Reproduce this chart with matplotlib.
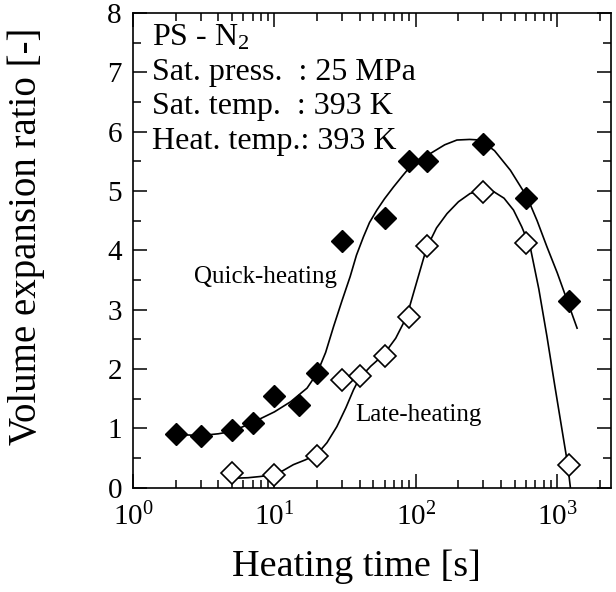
import matplotlib
matplotlib.use('Agg')
import matplotlib.pyplot as plt
import numpy as np
from matplotlib.ticker import MultipleLocator, LogLocator

plt.rcParams['font.family'] = ['Liberation Serif', 'DejaVu Serif']
plt.rcParams['mathtext.fontset'] = 'custom'
plt.rcParams['mathtext.rm'] = 'Liberation Serif'
plt.rcParams['mathtext.it'] = 'Liberation Serif:italic'

# measured points
quick_t = [2, 3, 5, 7, 10, 15, 20, 30, 60, 90, 120, 300, 600, 1200]
quick_v = [0.90, 0.88, 0.98, 1.10, 1.55, 1.40, 1.94, 4.16, 4.54, 5.51, 5.50, 5.80, 4.89, 3.15]
late_t = [5, 10, 20, 30, 40, 60, 90, 120, 300, 600, 1200]
late_v = [0.25, 0.22, 0.54, 1.82, 1.89, 2.22, 2.88, 4.07, 4.98, 4.12, 0.39]

# hand-drawn guide curves
quick_curve_t = [2, 3, 4, 5, 7, 10, 13, 17, 20, 23, 26.2, 30, 34.3, 38, 42.6, 47, 53, 60, 69.5, 80,
                 91, 108, 126, 160, 195, 240, 286, 360, 466, 611, 720, 845, 1000, 1173, 1380]
quick_curve_v = [0.90, 0.88, 0.91, 0.95, 1.10, 1.28, 1.45, 1.68, 1.93, 2.28, 2.72, 3.15, 3.56, 3.92, 4.23, 4.47,
                 4.68, 4.87, 5.07, 5.25, 5.41, 5.54, 5.63, 5.78, 5.86, 5.87, 5.86, 5.68, 5.35, 4.90, 4.50, 4.06, 3.62, 3.16, 2.69]
late_curve_t = [5, 6.5, 7.9, 9.8, 11.5, 13.6, 16.5, 19.9, 23.5, 27.6, 32, 36.2, 40, 48, 59, 72, 86, 100, 119,
                140, 166, 200, 242, 295, 355, 420, 490, 560, 643, 740, 845, 960, 1100, 1180, 1238]
late_curve_v = [0.16, 0.17, 0.19, 0.22, 0.29, 0.39, 0.47, 0.56, 0.76, 1.03, 1.35, 1.65, 1.85, 2.05, 2.24, 2.52,
                2.88, 3.42, 4.04, 4.38, 4.62, 4.82, 4.96, 5.01, 4.99, 4.88, 4.68, 4.40, 4.06, 3.35, 2.55, 1.72, 0.86, 0.42, 0.0]

fig = plt.figure(figsize=(6.16, 5.92), dpi=100)
ax = fig.add_axes([0.216, 0.176, 0.776, 0.802])

ax.plot(quick_curve_t, quick_curve_v, color='black', lw=1.2, zorder=2)
ax.plot(late_curve_t, late_curve_v, color='black', lw=1.2, zorder=2)
ax.plot(quick_t, quick_v, 'D', ms=11.5, mfc='black', mec='black', mew=1.0, zorder=3)
ax.plot(late_t, late_v, 'D', ms=11.5, mfc='white', mec='black', mew=1.2, zorder=3)

ax.set_xscale('log')
ax.set_xlim(1, 2400)
ax.set_ylim(0, 8)
ax.yaxis.set_major_locator(MultipleLocator(1))
ax.yaxis.set_minor_locator(MultipleLocator(0.5))
ax.xaxis.set_major_locator(LogLocator(base=10, numticks=10))
ax.xaxis.set_minor_locator(LogLocator(base=10, subs=np.arange(2, 10), numticks=10))

ax.tick_params(which='both', direction='in', top=True, right=True, labelsize=21, width=1.1)
ax.tick_params(which='major', length=10, pad=8)
ax.tick_params(which='minor', length=5.5)
ax.tick_params(axis='x', which='major', pad=11)
for s in ax.spines.values():
    s.set_linewidth(1.2)

ax.set_xlabel('Heating time [s]', fontsize=27.5)
ax.set_ylabel('Volume expansion ratio [-]', fontsize=28)
ax.xaxis.set_label_coords(0.467, -0.13)
ax.yaxis.set_label_coords(-0.185, 0.53)

info = ['PS - N$_2$', 'Sat. press.  : 25 MPa', 'Sat. temp.  : 393 K', 'Heat. temp.: 393 K']
info_y = [7.58, 7.0, 6.42, 5.84]
for line, yy in zip(info, info_y):
    ax.text(1.36, yy, line, fontsize=23, va='center', ha='left')

ax.text(8.6, 3.55, 'Quick-heating', fontsize=18, ha='center', va='center')
ax.text(104, 1.23, 'Late-heating', fontsize=18, ha='center', va='center')

fig.savefig('out.png', dpi=100)
